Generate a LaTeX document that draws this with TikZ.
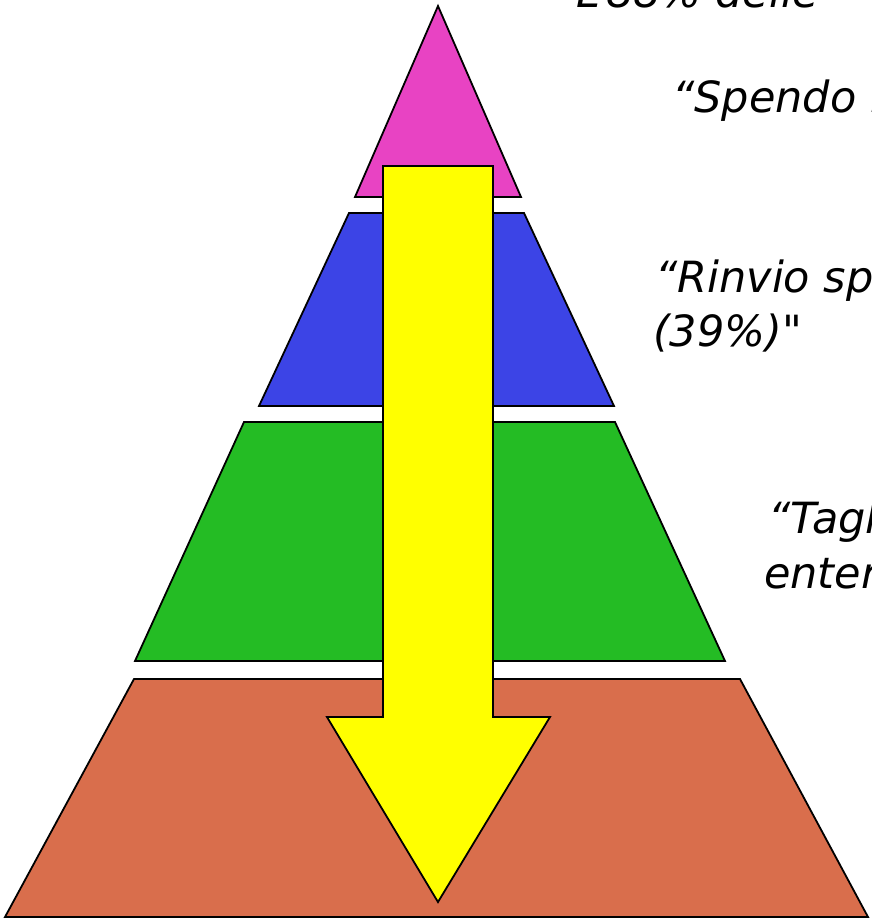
\documentclass[tikz,border=0pt]{standalone}
\usepackage{fontspec}
\setmainfont{DejaVu Sans}
\newfontfamily\lblfont{DejaVu Sans}
\begin{document}
\begin{tikzpicture}[x=1pt,y=-1pt,
  layer/.style={draw=black,line width=1.8pt,line join=miter},
  bigarrow/.style={draw=black,line width=1.8pt,fill=ayellow,line join=miter},
  lbl/.style={anchor=base west,inner sep=0pt,font=\lblfont\fontsize{43}{52}\selectfont\itshape}]
\definecolor{cpink}{RGB}{232,67,195}
\definecolor{cblue}{RGB}{60,68,230}
\definecolor{cgreen}{RGB}{36,188,36}
\definecolor{corange}{RGB}{217,110,76}
\definecolor{ayellow}{RGB}{255,255,0}
\useasboundingbox (0,0) rectangle (871,919);
\clip (0,0) rectangle (871,919);
% layers
\path[layer,fill=cpink] (438,6) -- (521,197) -- (355,197) -- cycle;
\path[layer,fill=cblue] (349,213) -- (524,213) -- (614,406) -- (259,406) -- cycle;
\path[layer,fill=cgreen] (244,422) -- (615,422) -- (725,661) -- (135,661) -- cycle;
\path[layer,fill=corange] (134,679) -- (740,679) -- (868,917) -- (5,917) -- cycle;
% arrow
\path[bigarrow] (383,166) -- (493,166) -- (493,717) -- (550,717) -- (438,902)
  -- (327,717) -- (383,717) -- cycle;
% texts
\node[lbl] (t0) at (576,7) {L’88\% delle};
\node[lbl] (t1) at (672,112) {“Spendo meno};
\node[lbl] (t2) at (655,292) {“Rinvio spese};
\node[lbl] (t3) at (653,346) {(39\%)"};
\node[lbl] (t4) at (768,533) {“Taglio};
\node[lbl] (t5) at (764,588) {enter};
\end{tikzpicture}
\end{document}
